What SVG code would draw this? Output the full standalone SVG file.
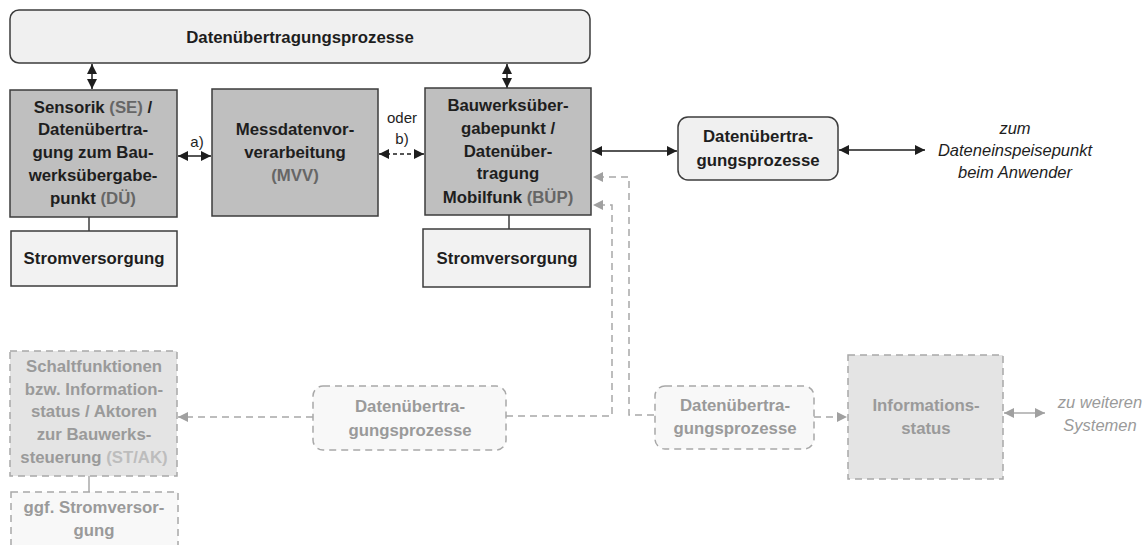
<svg xmlns="http://www.w3.org/2000/svg" width="1148" height="545" viewBox="0 0 1148 545">
<style>
.t{font-family:"Liberation Sans",Arial,sans-serif;font-weight:bold;font-size:16.8px;text-anchor:middle;fill:#1e1e1e}
.g{fill:#9a9a9a}
.ab{fill:#666}
.al{fill:#bdbdbd}
.n{font-family:"Liberation Sans",Arial,sans-serif;font-size:15px;text-anchor:middle;fill:#1e1e1e}
.i{font-family:"Liberation Sans",Arial,sans-serif;font-style:italic;font-size:16.5px;text-anchor:middle;fill:#1e1e1e}
.ig{fill:#9a9a9a}
.box{fill:#bfbfbf;stroke:#3c3c3c;stroke-width:1.5}
.pow{fill:#f2f2f2;stroke:#3c3c3c;stroke-width:1.5}
.rnd{fill:#f0f0f0;stroke:#3c3c3c;stroke-width:1.5}
.dbox{fill:#e4e4e4;stroke:#a8a8a8;stroke-width:1.5;stroke-dasharray:7 5}
.dpow{fill:#f8f8f8;stroke:#a8a8a8;stroke-width:1.5;stroke-dasharray:7 5}
.drnd{fill:#f8f8f8;stroke:#a8a8a8;stroke-width:1.5;stroke-dasharray:7 5}
.c{fill:none;stroke:#1e1e1e;stroke-width:1.5}
.cd{fill:none;stroke:#1e1e1e;stroke-width:1.5;stroke-dasharray:4 3}
.cg{fill:none;stroke:#a8a8a8;stroke-width:1.5;stroke-dasharray:7 5}
.cgs{fill:none;stroke:#a8a8a8;stroke-width:1.5}
.ln{fill:none;stroke:#3c3c3c;stroke-width:1.5}
</style>
<defs>
<marker id="ah" markerUnits="userSpaceOnUse" markerWidth="11" markerHeight="11" refX="10" refY="5" orient="auto-start-reverse"><path d="M0,0 L10,5 L0,10 Z" fill="#1e1e1e"/></marker>
<marker id="ag" markerUnits="userSpaceOnUse" markerWidth="11" markerHeight="11" refX="10" refY="5" orient="auto-start-reverse"><path d="M0,0 L10,5 L0,10 Z" fill="#a0a0a0"/></marker>
</defs>
<rect width="1148" height="545" fill="#ffffff"/>

<g id="connectors">
<line class="c" x1="92" y1="64" x2="92" y2="89" marker-start="url(#ah)" marker-end="url(#ah)"/>
<line class="c" x1="507" y1="64" x2="507" y2="88" marker-start="url(#ah)" marker-end="url(#ah)"/>
<line class="c" x1="178" y1="156" x2="211" y2="156" marker-start="url(#ah)" marker-end="url(#ah)"/>
<line class="cd" x1="379" y1="154" x2="424" y2="154" marker-start="url(#ah)" marker-end="url(#ah)"/>
<line class="c" x1="592" y1="151" x2="677" y2="151" marker-start="url(#ah)" marker-end="url(#ah)"/>
<line class="c" x1="839" y1="150" x2="925" y2="150" marker-start="url(#ah)" marker-end="url(#ah)"/>
<line class="ln" x1="89" y1="217" x2="89" y2="231"/>
<line class="ln" x1="509" y1="215" x2="509" y2="229"/>
<path class="cg" d="M313,417 H178" marker-end="url(#ag)"/>
<path class="cg" d="M506,416 H612 V205 H593" marker-end="url(#ag)"/>
<path class="cg" d="M654,415 H629 V177 H593" marker-end="url(#ag)"/>
<path class="cg" d="M814,417 H847" marker-end="url(#ag)"/>
<line class="cgs" x1="1004" y1="413" x2="1045" y2="413" marker-start="url(#ag)" marker-end="url(#ag)"/>
<line class="cgs" x1="89" y1="476" x2="89" y2="492"/>
<text class="n" x="197" y="147">a)</text>
<text class="n" x="402" y="123">oder</text>
<text class="n" x="402" y="144">b)</text>
</g>

<g id="top-process">
<rect class="rnd" x="10" y="10" width="580" height="53" rx="9"/>
<text class="t" x="300" y="43">Datenübertragungsprozesse</text>
</g>

<g id="sensorik">
<rect class="box" x="10" y="90" width="167" height="127"/>
<text class="t" x="93" y="113">Sensorik <tspan class="ab">(SE)</tspan> /</text>
<text class="t" x="93" y="135">Datenübertra-</text>
<text class="t" x="93" y="158">gung zum Bau-</text>
<text class="t" x="93" y="181">werksübergabe-</text>
<text class="t" x="93" y="204">punkt <tspan class="ab">(DÜ)</tspan></text>
</g>

<g id="strom-left">
<rect class="pow" x="11" y="231" width="166" height="55"/>
<text class="t" x="94" y="264">Stromversorgung</text>
</g>

<g id="mvv">
<rect class="box" x="212" y="89" width="166" height="127"/>
<text class="t" x="295" y="135">Messdatenvor-</text>
<text class="t" x="295" y="158">verarbeitung</text>
<text class="t ab" x="295" y="181">(MVV)</text>
</g>

<g id="buep">
<rect class="box" x="425" y="88" width="166" height="127"/>
<text class="t" x="508" y="111">Bauwerksüber-</text>
<text class="t" x="508" y="134">gabepunkt /</text>
<text class="t" x="508" y="157">Datenüber-</text>
<text class="t" x="508" y="179">tragung</text>
<text class="t" x="508" y="203">Mobilfunk <tspan class="ab">(BÜP)</tspan></text>
</g>

<g id="strom-right">
<rect class="pow" x="423" y="229" width="167" height="58"/>
<text class="t" x="507" y="264">Stromversorgung</text>
</g>

<g id="process-right">
<rect class="rnd" x="678" y="117" width="160" height="63" rx="10"/>
<text class="t" x="758" y="142">Datenübertra-</text>
<text class="t" x="758" y="166">gungsprozesse</text>
</g>

<g id="anwender">
<text class="i" x="1015" y="134">zum</text>
<text class="i" x="1015" y="156">Dateneinspeisepunkt</text>
<text class="i" x="1015" y="178">beim Anwender</text>
</g>

<g id="st-ak">
<rect class="dbox" x="10" y="351" width="167" height="125"/>
<text class="t g" x="94" y="372">Schaltfunktionen</text>
<text class="t g" x="94" y="395">bzw. Information-</text>
<text class="t g" x="94" y="417">status / Aktoren</text>
<text class="t g" x="94" y="440">zur Bauwerks-</text>
<text class="t g" x="94" y="463">steuerung <tspan class="al">(ST/AK)</tspan></text>
</g>

<g id="strom-ggf">
<rect class="dpow" x="11" y="492" width="167" height="70"/>
<text class="t g" x="94" y="513">ggf. Stromversor-</text>
<text class="t g" x="94" y="536">gung</text>
</g>

<g id="process-mid">
<rect class="drnd" x="313" y="386" width="193" height="64" rx="10"/>
<text class="t g" x="410" y="412">Datenübertra-</text>
<text class="t g" x="410" y="436">gungsprozesse</text>
</g>

<g id="process-mid-right">
<rect class="drnd" x="655" y="386" width="159" height="63" rx="10"/>
<text class="t g" x="735" y="411">Datenübertra-</text>
<text class="t g" x="735" y="434">gungsprozesse</text>
</g>

<g id="info">
<rect class="dbox" x="848" y="355" width="155" height="124"/>
<text class="t g" x="926" y="411">Informations-</text>
<text class="t g" x="926" y="434">status</text>
</g>

<g id="weitere">
<text class="i ig" x="1100" y="408">zu weiteren</text>
<text class="i ig" x="1100" y="431">Systemen</text>
</g>
</svg>
